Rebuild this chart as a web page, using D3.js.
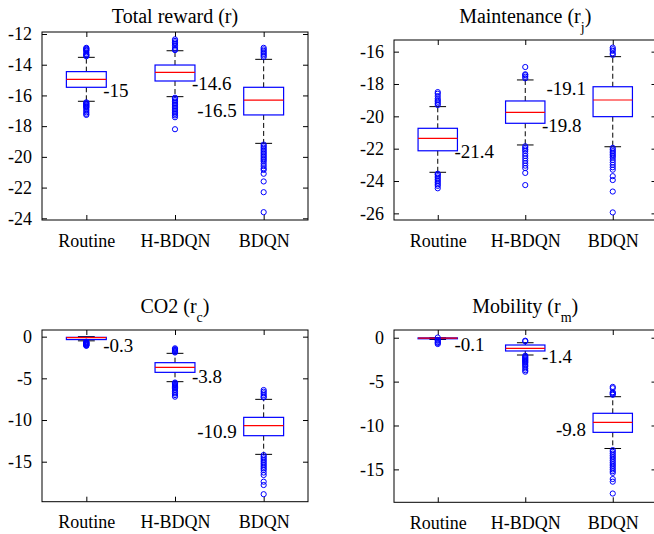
<!DOCTYPE html>
<html>
<head>
<meta charset="utf-8">
<script src="https://cdn.jsdelivr.net/npm/d3@7"></script>
</head>
<body style="margin:0;background:#fff">
<svg id="chart" width="654" height="534"></svg>
<script>
// ---------------- DATA ----------------
const categories = ["Routine", "H-BDQN", "BDQN"];
// box stats per category: [lower whisker, lower box edge, median, upper box edge, upper whisker]
const totalRewardStats = [
  [-16.38, -15.47, -14.95, -14.45, -13.52],
  [-16.08, -15.06, -14.50, -14.02, -13.09],
  [-19.12, -17.27, -16.30, -15.47, -13.65]
];
const totalRewardOutliers = [
  [-12.9, -12.95, -13.0, -13.05, -13.1, -13.2, -13.3, -13.35, -13.4, -13.45,
   -16.45, -16.5, -16.55, -16.6, -16.65, -16.7, -16.75, -16.8, -16.9, -17.0, -17.1, -17.2, -17.27],
  [-12.35, -12.45, -12.55, -12.65, -12.75, -12.9, -13.0, -13.05,
   -16.15, -16.2, -16.3, -16.4, -16.5, -16.6, -16.7, -16.8, -16.9, -17.0, -17.1, -17.2, -17.3, -17.42, -18.2],
  [-12.9, -13.0, -13.1, -13.2, -13.3, -13.4, -13.5,
   -19.2, -19.3, -19.4, -19.5, -19.6, -19.7, -19.8, -19.9, -20.0, -20.1, -20.2, -20.3, -20.45, -20.6, -20.75, -20.85,
   -21.1, -21.6, -22.3, -23.6]
];
const totalRewardLabels = ["-15", "-14.6", "-16.5"];
const totalRewardLabelAt = [-15.65, -15.21, -16.95];
const totalRewardTicks = [-24, -22, -20, -18, -16, -14, -12];

const maintenanceStats = [
  [-23.46, -22.13, -21.36, -20.74, -19.40],
  [-21.77, -20.43, -19.75, -19.05, -17.75],
  [-21.88, -20.02, -18.99, -18.17, -16.31]
];
const maintenanceOutliers = [
  [-18.5, -18.6, -18.75, -18.9, -19.0, -19.1, -19.2, -19.3,
   -23.55, -23.6, -23.7, -23.8, -23.9, -24.0, -24.1, -24.2, -24.3, -24.45],
  [-16.95, -17.4, -17.45, -17.55, -17.65,
   -21.85, -21.95, -22.05, -22.15, -22.3, -22.45, -22.6, -22.75, -22.9, -23.05, -23.2, -23.5, -24.25],
  [-15.75, -15.85, -15.95, -16.1, -16.2,
   -21.95, -22.05, -22.15, -22.25, -22.35, -22.45, -22.55, -22.7, -22.85, -23.0, -23.15, -23.3,
   -23.7, -23.94, -24.65, -25.94]
];
const maintenanceLabels = ["-21.4", "-19.8", "-19.1"];
const maintenanceLabelAt = [-22.19, -20.54, -18.26];
const maintenanceTicks = [-26, -24, -22, -20, -18, -16];

const co2Stats = [
  [-0.50, -0.35, -0.12, -0.08, 0.0],
  [-5.40, -4.28, -3.68, -3.12, -2.00],
  [-14.12, -11.88, -10.68, -9.68, -7.52]
];
const co2Outliers = [
  [-0.6, -0.65, -0.7, -0.75, -0.8, -0.85, -0.9, -0.95, -1.0, -1.05, -1.1],
  [-1.4, -1.5, -1.6, -1.7, -1.8, -1.9,
   -5.5, -5.6, -5.7, -5.8, -5.9, -6.0, -6.1, -6.2, -6.4, -6.6, -6.8, -7.0, -7.2],
  [-6.4, -6.6, -6.8, -7.0, -7.2, -7.3,
   -14.2, -14.4, -14.6, -14.8, -15.0, -15.2, -15.4, -15.6, -15.8, -16.0, -16.3, -16.6, -17.4, -17.8, -18.9]
];
const co2Labels = ["-0.3", "-3.8", "-10.9"];
const co2LabelAt = [-1.0, -4.72, -11.4];
const co2Ticks = [-15, -10, -5, 0];

const mobilityStats = [
  [-0.20, -0.12, -0.05, -0.02, 0.0],
  [-1.97, -1.51, -1.21, -0.83, -0.57],
  [-12.62, -10.78, -9.64, -8.61, -6.72]
];
const mobilityOutliers = [
  [0.02, -0.25, -0.35, -0.5, -0.6, -0.72],
  [-0.34, -0.4,
   -2.05, -2.15, -2.25, -2.35, -2.45, -2.55, -2.65, -2.75, -2.85, -3.0, -3.15, -3.3, -3.5, -3.7, -3.87],
  [-5.6, -5.75, -6.2, -6.3, -6.4, -6.5,
   -12.8, -13.0, -13.2, -13.4, -13.6, -13.8, -14.0, -14.2, -14.4, -14.6, -14.8, -15.0, -15.2, -15.4,
   -16.1, -16.4, -17.75]
];
const mobilityLabels = ["-0.1", "-1.4", "-9.8"];
const mobilityLabelAt = [-0.72, -2.08, -10.43];
const mobilityTicks = [-15, -10, -5, 0];

const labelSide = ["right", "right", "left"];

// ---------------- LAYOUT ----------------
const panels = [
  { title: "Total reward (r)", sub: null, tail: "",
    stats: totalRewardStats, outliers: totalRewardOutliers, labels: totalRewardLabels, labelAt: totalRewardLabelAt,
    ticks: totalRewardTicks, domain: [-24.11, -11.87], l: 42, r: 308, t: 32, b: 220, titleY: 23 },
  { title: "Maintenance (r", sub: "j", tail: ")",
    stats: maintenanceStats, outliers: maintenanceOutliers, labels: maintenanceLabels, labelAt: maintenanceLabelAt,
    ticks: maintenanceTicks, domain: [-26.41, -15.28], l: 394, r: 656.5, t: 40, b: 220, titleY: 23 },
  { title: "CO2 (r", sub: "c", tail: ")",
    stats: co2Stats, outliers: co2Outliers, labels: co2Labels, labelAt: co2LabelAt,
    ticks: co2Ticks, domain: [-19.8, 0.8], l: 42, r: 308, t: 330, b: 501.7, titleY: 313 },
  { title: "Mobility (r", sub: "m", tail: ")",
    stats: mobilityStats, outliers: mobilityOutliers, labels: mobilityLabels, labelAt: mobilityLabelAt,
    ticks: mobilityTicks, domain: [-18.75, 0.88], l: 394, r: 656.5, t: 330, b: 502.3, titleY: 313 }
];

const FONT = "Liberation Serif";
const svg = d3.select("#chart");
svg.append("rect").attr("width", 654).attr("height", 534).attr("fill", "#fff");

const BOX_HALF = 0.225, CAP_HALF = 0.095;

panels.forEach(p => {
  const x = d3.scaleLinear().domain([0.5, 3.5]).range([p.l, p.r]);
  const y = d3.scaleLinear().domain(p.domain).range([p.b, p.t]);
  const g = svg.append("g").attr("font-family", FONT);

  const yAxis = d3.axisLeft(y).tickValues(p.ticks).tickSize(-5).tickPadding(10).tickFormat(d => String(d));
  const gy = g.append("g").attr("transform", `translate(${p.l},0)`).call(yAxis);
  const yAxisR = d3.axisRight(y).tickValues(p.ticks).tickSize(-5).tickFormat("");
  const gyr = g.append("g").attr("transform", `translate(${p.r},0)`).call(yAxisR);
  const xAxis = d3.axisBottom(x).tickValues([1, 2, 3]).tickSize(-5).tickPadding(14).tickFormat((d, i) => categories[i]);
  const gx = g.append("g").attr("transform", `translate(0,${p.b})`).call(xAxis);
  const xAxisT = d3.axisTop(x).tickValues([1, 2, 3]).tickSize(-5).tickFormat("");
  const gxt = g.append("g").attr("transform", `translate(0,${p.t})`).call(xAxisT);
  [gy, gyr, gx, gxt].forEach(a => {
    a.attr("font-family", FONT).attr("font-size", 18);
    a.select(".domain").remove();
    a.selectAll("line").attr("stroke", "#000").attr("stroke-width", 1);
    a.selectAll("text").attr("fill", "#000").attr("font-family", FONT).attr("font-size", 18);
  });
  g.append("rect").attr("x", p.l).attr("y", p.t).attr("width", p.r - p.l).attr("height", p.b - p.t)
    .attr("fill", "none").attr("stroke", "#000").attr("stroke-width", 1);

  const tt = g.append("text").attr("x", x(2)).attr("y", p.titleY).attr("text-anchor", "middle")
    .attr("font-family", FONT).attr("font-size", 20).attr("fill", "#000").text(p.title);
  if (p.sub) {
    tt.append("tspan").attr("dy", 9).attr("font-size", 14).text(p.sub);
    tt.append("tspan").attr("dy", -9).text(p.tail);
  }

  p.stats.forEach((s, i) => {
    const cx = x(i + 1);
    const [wl, ql, med, qu, wu] = s;
    const bw = x(1 + BOX_HALF) - x(1);
    const cw = x(1 + CAP_HALF) - x(1);
    g.append("line").attr("x1", cx).attr("x2", cx).attr("y1", y(qu)).attr("y2", y(wu))
      .attr("stroke", "#000").attr("stroke-dasharray", "5,3").attr("stroke-width", 1);
    g.append("line").attr("x1", cx).attr("x2", cx).attr("y1", y(ql)).attr("y2", y(wl))
      .attr("stroke", "#000").attr("stroke-dasharray", "5,3").attr("stroke-width", 1);
    [wl, wu].forEach(v => g.append("line").attr("x1", cx - cw).attr("x2", cx + cw).attr("y1", y(v)).attr("y2", y(v))
      .attr("stroke", "#000").attr("stroke-width", 1));
    g.append("rect").attr("x", cx - bw).attr("width", 2 * bw).attr("y", y(qu)).attr("height", Math.max(0.5, y(ql) - y(qu)))
      .attr("fill", "none").attr("stroke", "#0000ff").attr("stroke-width", 1.2);
    g.append("line").attr("x1", cx - bw).attr("x2", cx + bw).attr("y1", y(med)).attr("y2", y(med))
      .attr("stroke", "#ff0000").attr("stroke-width", 1.2);
    g.selectAll(null).data(p.outliers[i]).enter().append("circle")
      .attr("cx", cx).attr("cy", d => y(d)).attr("r", 2.6)
      .attr("fill", "none").attr("stroke", "#0000ff").attr("stroke-width", 1);
    const right = labelSide[i] === "right";
    g.append("text")
      .attr("x", right ? cx + bw - 3 : cx - bw - 7)
      .attr("y", y(p.labelAt[i]))
      .attr("dy", "0.35em")
      .attr("text-anchor", right ? "start" : "end")
      .attr("font-family", FONT).attr("font-size", 19).attr("fill", "#000")
      .text(p.labels[i]);
  });
});
</script>
</body>
</html>
